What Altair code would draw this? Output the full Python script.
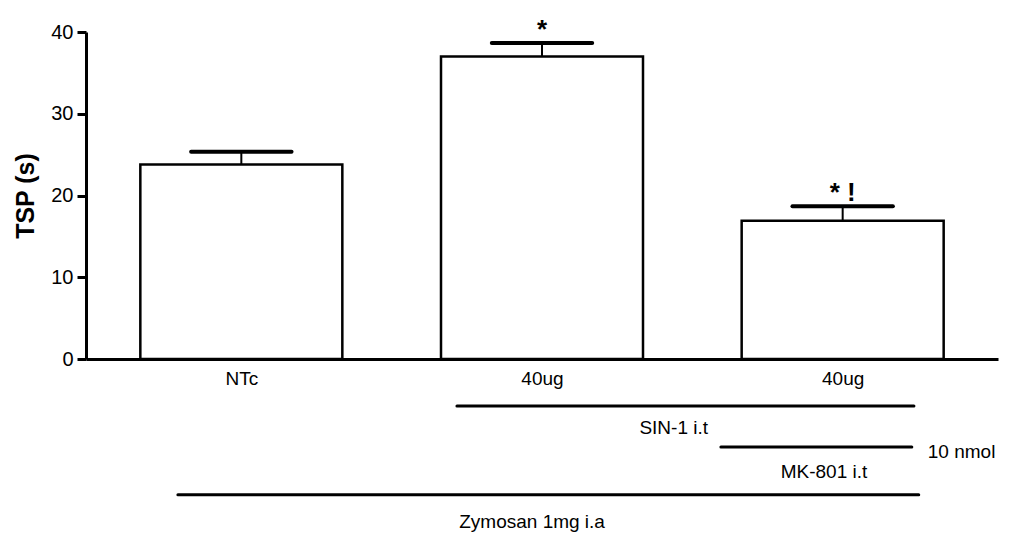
import altair as alt
import pandas as pd

# ---- data ----
positions = [0.5, 1.5, 2.5]
labels = ["NTc", "40ug", "40ug"]
means = [23.8, 37.0, 16.9]
sems = [1.55, 1.65, 1.8]
markers = ["", "*", "* !"]

# group brackets under the axis (x in bar-position units, y in TSP units)
bracket_x0 = [1.217, 2.095, 0.289]
bracket_x1 = [2.737, 2.730, 2.753]
bracket_y = [-5.75, -10.76, -16.6]

note_text = ["SIN-1 i.t", "MK-801 i.t", "Zymosan 1mg i.a"]
note_x = [1.938, 2.438, 1.467]
note_y = [-8.5, -13.8, -19.9]

dose_text = ["10 nmol"]
dose_x = [2.783]
dose_y = [-11.4]

FONT = "Liberation Sans"
HALF_CAP = 0.167

bars = pd.DataFrame({"pos": positions, "label": labels, "mean": means,
                     "sem": sems, "marker": markers})
bars["top"] = bars["mean"] + bars["sem"]
bars["c0"] = bars["pos"] - HALF_CAP
bars["c1"] = bars["pos"] + HALF_CAP

brackets = pd.DataFrame({"x0": bracket_x0, "x1": bracket_x1, "y": bracket_y})
notes = pd.DataFrame({"t": note_text, "x": note_x, "y": note_y})
doses = pd.DataFrame({"t": dose_text, "x": dose_x, "y": dose_y})

label_expr = ("datum.value < 1 ? 'NTc' : '40ug'")

xscale = alt.Scale(domain=[0, 3], nice=False, zero=False)
yscale = alt.Scale(domain=[0, 40], nice=False)

x_axis = alt.Axis(values=positions, labelExpr=label_expr, ticks=False,
                  grid=False, domainWidth=3, domainColor="black",
                  labelFont=FONT, labelFontSize=19, labelColor="black",
                  labelPadding=10, title=None)
y_axis = alt.Axis(values=[0, 10, 20, 30, 40], grid=False, domainWidth=3,
                  domainColor="black", tickColor="black", tickWidth=3,
                  tickSize=9, labelFont=FONT, labelFontSize=20,
                  labelColor="black", labelPadding=4,
                  title="TSP (s)", titleFont=FONT, titleFontSize=25,
                  titleFontWeight="bold", titleColor="black",
                  titleX=-61, titleY=163.5, titleAngle=-90,
                  titleAlign="center", titleBaseline="middle")

base = alt.Chart(bars)

bar = base.mark_bar(size=202, fill="white", stroke="black", strokeWidth=2.5).encode(
    x=alt.X("pos:Q", scale=xscale, axis=x_axis),
    y=alt.Y("mean:Q", scale=yscale, axis=y_axis),
)

stem = base.mark_rule(color="black", strokeWidth=2).encode(
    x="pos:Q", y="mean:Q", y2="top:Q"
)

cap = base.mark_rule(color="black", strokeWidth=4, strokeCap="round").encode(
    x="c0:Q", x2="c1:Q", y="top:Q"
)

sig = base.mark_text(font=FONT, fontSize=26, fontWeight="bold", color="black",
                     baseline="middle", dy=-13).encode(
    x="pos:Q", y="top:Q", text="marker:N"
)

brk = alt.Chart(brackets).mark_rule(color="black", strokeWidth=3, strokeCap="round").encode(
    x="x0:Q", x2="x1:Q", y="y:Q"
)

note = alt.Chart(notes).mark_text(font=FONT, fontSize=19, color="black",
                                  align="center", baseline="middle").encode(
    x="x:Q", y="y:Q", text="t:N"
)

dose = alt.Chart(doses).mark_text(font=FONT, fontSize=19, color="black",
                                  align="left", baseline="middle").encode(
    x="x:Q", y="y:Q", text="t:N"
)

chart = alt.layer(bar, stem, cap, sig, brk, note, dose).properties(
    width=912, height=327,
    padding={"left": 78, "top": 24, "right": 6, "bottom": 177},
    autosize=alt.AutoSizeParams(type="none"),
    background="white",
).configure_view(strokeWidth=0, stroke="transparent")

chart.save("out.html", embed_options={"renderer": "svg", "actions": False})
